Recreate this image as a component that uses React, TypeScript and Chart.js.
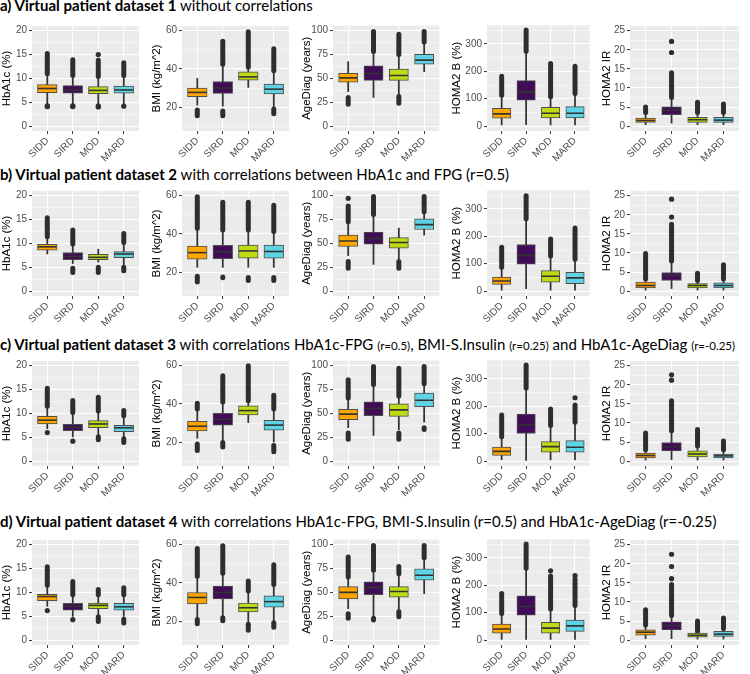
import React, { useEffect, useRef } from "react";
import { Chart, registerables } from "chart.js";
Chart.register(...registerables);

// ---------- categories & styling ----------
const GROUPS = ["SIDD", "SIRD", "MOD", "MARD"];
const COLORS = ["#FFA500", "#3F0C55", "#C1DA16", "#5DD3E3"];

// ---------- tick lists (major + minor gridlines) ----------
const TICKS_HBA1C = [0, 2.5, 5, 7.5, 10, 12.5, 15, 17.5, 20];
const TICKS_BMI = [10, 20, 30, 40, 50, 60];
const TICKS_AGE = [0, 12.5, 25, 37.5, 50, 62.5, 75, 87.5, 100];
const TICKS_HOMAB = [0, 50, 100, 150, 200, 250, 300, 350];
const TICKS_HOMAIR = [0, 2.5, 5, 7.5, 10, 12.5, 15, 17.5, 20, 22.5, 25];

// ---------- box statistics per panel ----------
// each row (SIDD, SIRD, MOD, MARD):
// [whiskerLow, Q1, median, Q3, whiskerHigh, lowOutMin, lowOutMax, highOutMin, highOutMax]

// a) dataset 1
const A_HBA1C = [
  [4.7, 7.0, 7.9, 8.7, 11.0, 4.1, 4.3, 11.0, 15.2],
  [4.7, 6.9, 7.6, 8.5, 10.6, 4.1, 4.3, 10.6, 13.9],
  [4.6, 6.8, 7.5, 8.3, 10.4, 4.0, 4.3, 10.4, 13.8],
  [4.7, 6.9, 7.6, 8.4, 10.6, null, null, 10.6, 13.3],
];
const A_BMI = [
  [21.0, 25.5, 27.7, 30.0, 35.0, 15.5, 18.5, null, null],
  [20.5, 27.2, 30.0, 33.4, 42.5, 15.5, 18.0, 42.5, 54.5],
  [30.3, 34.1, 35.8, 38.5, 41.0, null, null, 41.0, 59.5],
  [20.0, 26.9, 29.4, 32.0, 39.0, 16.5, 19.0, 39.0, 50.5],
];
const A_AGE = [
  [36, 46.1, 50.5, 55.3, 67.6, 23, 30, null, null],
  [30, 47.8, 55, 63, 78, null, null, 78, 99],
  [33, 47.8, 53, 59.7, 74, 24, 31, 75, 96],
  [57, 64.8, 69, 75, 87, null, null, 88, 99],
];
const A_HOMAB = [
  [5, 29.6, 45, 65, 113, null, null, 113, 182],
  [6, 95, 124, 166, 273, null, null, 273, 350],
  [5, 30, 47, 69, 107, null, null, 107, 228],
  [5, 30, 47, 71, 119, null, null, 119, 218],
];
const A_HOMAIR = [
  [0.4, 1.0, 1.5, 2.1, 3.6, null, null, 3.6, 5.0],
  [0.8, 3.0, 4.2, 5.1, 7.5, null, null, 7.5, 14.0],
  [0.4, 1.0, 1.7, 2.3, 3.6, null, null, 3.6, 6.3],
  [0.4, 1.0, 1.6, 2.3, 3.6, null, null, 3.6, 5.8],
];

// b) dataset 2
const B_HBA1C = [
  [7.8, 8.6, 9.3, 9.8, 11.4, null, null, 11.4, 15.4],
  [5.8, 6.6, 7.3, 8.1, 9.9, 3.9, 4.8, 9.9, 12.8],
  [6.1, 6.6, 7.1, 7.7, 8.8, 3.9, 5.0, null, null],
  [5.5, 7.0, 7.8, 8.3, 10.2, 4.3, 5.0, 10.2, 12.1],
];
const B_BMI = [
  [22.5, 26.8, 30.2, 33.6, 43, 14.8, 17.8, 43, 59.5],
  [22.5, 27.1, 30.7, 34.0, 42, 17.0, 17.4, 42, 56.6],
  [22.5, 27.3, 31.1, 34.1, 42, 15.6, 17.2, 42, 56.6],
  [22.5, 27.3, 30.8, 34.1, 41.3, 15.6, 17.2, 41.3, 55.0],
];
const B_AGE = [
  [37, 46.8, 52.5, 58.6, 72.5, 24, 31, 72.5, 89],
  [28, 49, 55, 61.7, 80, null, null, 80, 99],
  [34, 45, 50.8, 56, 66, 24, 31, null, null],
  [58.6, 64.4, 69.5, 75.6, 83, null, null, 83, 99],
];
const B_HOMAB = [
  [3.5, 25, 37, 51, 87, null, null, 87, 160],
  [9.5, 98.5, 130.5, 170, 264, null, null, 264, 348],
  [4, 33, 54.6, 75, 128, null, null, 128, 190],
  [4, 27, 48.6, 69, 116, null, null, 116, 230],
];
const B_HOMAIR = [
  [0.3, 0.85, 1.5, 2.4, 3.2, null, null, 3.2, 9.9],
  [0.7, 2.8, 4.1, 4.9, 7.9, null, null, 7.9, 17.5],
  [0.3, 0.85, 1.5, 2.0, 2.8, null, null, 2.8, 4.7],
  [0.3, 0.85, 1.5, 2.2, 3.2, null, null, 3.2, 6.9],
];

// c) dataset 3
const C_HBA1C = [
  [6.8, 7.8, 8.6, 9.4, 11.5, null, null, 11.5, 15.3],
  [5.1, 6.4, 7.1, 7.7, 10.2, null, null, 10.2, 12.7],
  [5.4, 7.0, 7.8, 8.5, 10.5, 4.5, 5.1, 10.5, 13.4],
  [5.1, 6.2, 7.0, 7.5, 9.5, 3.9, 4.7, 9.5, 10.6],
];
const C_BMI = [
  [22, 25.8, 28.3, 30.9, 36.5, 15.6, 19.0, 37.4, 40.4],
  [20.3, 28.9, 31.9, 35.1, 41, 17.5, 19.8, 41, 54.8],
  [30.2, 34.3, 36.5, 39.0, 41.6, null, null, 41.6, 60.0],
  [20, 26.3, 28.9, 31.4, 37.4, 15.0, 18.2, 37.4, 44.5],
];
const C_AGE = [
  [35, 43.4, 49.2, 54.2, 66, 23, 29.5, 66, 85],
  [27, 47.5, 55, 62, 80, null, null, 80, 99],
  [33, 46.8, 53.6, 60, 68, 23, 29.5, 68, 97],
  [40.7, 57, 63.7, 71.2, 81, 33, 35, 81, 99],
];
const C_HOMAB = [
  [6, 21, 35.6, 51, 89, null, null, 89, 168],
  [3, 101, 133, 172, 267, null, null, 267, 350],
  [5, 33, 53, 71, 130, null, null, 130, 190],
  [5, 33, 51, 75, 142, null, null, 142, 205],
];
const C_HOMAIR = [
  [0.3, 0.85, 1.5, 2.1, 3.0, null, null, 3.0, 7.4],
  [0.4, 2.7, 3.8, 4.9, 8.0, null, null, 8.0, 15.8],
  [0.3, 1.1, 1.9, 2.7, 4.0, null, null, 4.0, 8.3],
  [0.3, 0.85, 1.4, 1.9, 3.0, null, null, 3.0, 5.3],
];

// d) dataset 4
const D_HBA1C = [
  [7.1, 8.3, 9.15, 9.6, 11.5, null, null, 11.5, 15.4],
  [5.0, 6.3, 7.1, 7.7, 9.5, null, null, 9.5, 12.3],
  [5.2, 6.6, 7.3, 7.8, 9.5, 3.9, 4.9, 9.5, 10.6],
  [5.0, 6.3, 7.0, 7.7, 9.5, 3.6, 4.4, 9.5, 11.0],
];
const D_BMI = [
  [21.4, 29, 32.4, 35, 43.5, 18.6, 20.8, 43.5, 58.0],
  [22.2, 31.6, 35, 38.4, 45, 20.2, 21.8, 45, 59.5],
  [18.8, 24.8, 27, 29.5, 35.8, 15.2, 18.4, 35.8, 41.0],
  [19.7, 27.3, 30.2, 33.3, 39.2, 16.8, 19.2, 39.2, 49.5],
];
const D_AGE = [
  [33, 43, 50, 56, 66, 23, 27.5, 66, 87],
  [25, 47.5, 55.2, 61, 73, 21, 23, 73, 99],
  [33, 45, 50.8, 56, 69.5, 24.5, 30, 69.5, 77],
  [48.5, 62.7, 67.8, 74.6, 86, null, null, 86, 99],
];
const D_HOMAB = [
  [3, 26, 41, 59, 97, null, null, 97, 170],
  [3, 91, 123, 162, 262, null, null, 262, 350],
  [3, 26, 44, 65, 114, null, null, 114, 234],
  [3, 32, 52, 73, 126, null, null, 126, 222],
];
const D_HOMAIR = [
  [0.4, 1.3, 2.1, 2.7, 4.0, null, null, 4.0, 8.0],
  [0.4, 2.7, 3.8, 4.8, 6.5, null, null, 6.5, 14.6],
  [0.3, 0.8, 1.3, 1.9, 2.3, null, null, 2.3, 5.0],
  [0.3, 1.0, 1.6, 2.3, 3.1, null, null, 3.1, 5.8],
];

// ---------- isolated outlier points: [groupIndex, value] ----------
const A_HBA1C_PTS = [[0, 4.2], [1, 4.2], [2, 4.1], [2, 15.0], [3, 4.2]];
const A_HOMAIR_PTS = [[1, 19.3], [1, 22.2]];
const B_AGE_PTS = [[0, 97]];
const B_HOMAIR_PTS = [[1, 19.4], [1, 24.1]];
const C_HBA1C_PTS = [[0, 6.0], [1, 4.2]];
const C_HOMAB_PTS = [[3, 231]];
const C_HOMAIR_PTS = [[1, 21.2], [1, 22.6]];
const D_HBA1C_PTS = [[0, 6.2], [1, 4.3]];
const D_HOMAB_PTS = [[2, 253], [3, 235]];
const D_HOMAIR_PTS = [[1, 16.1], [1, 19.3], [1, 22.5]];
const NO_PTS: number[][] = [];

// ---------- variables (axis settings) ----------
const VARS = [
  { title: "HbA1c (%)", min: -1, max: 21, ticks: TICKS_HBA1C, major: 5 },
  { title: "BMI (kg/m^2)", min: 7.5, max: 62.5, ticks: TICKS_BMI, major: 20 },
  { title: "AgeDiag (years)", min: -5, max: 105, ticks: TICKS_AGE, major: 25 },
  { title: "HOMA2 B (%)", min: -17.5, max: 367.5, ticks: TICKS_HOMAB, major: 100 },
  { title: "HOMA2 IR", min: -1.25, max: 26.25, ticks: TICKS_HOMAIR, major: 5 },
];

const ROWS = [
  { stats: [A_HBA1C, A_BMI, A_AGE, A_HOMAB, A_HOMAIR], pts: [A_HBA1C_PTS, NO_PTS, NO_PTS, NO_PTS, A_HOMAIR_PTS] },
  { stats: [B_HBA1C, B_BMI, B_AGE, B_HOMAB, B_HOMAIR], pts: [NO_PTS, NO_PTS, B_AGE_PTS, NO_PTS, B_HOMAIR_PTS] },
  { stats: [C_HBA1C, C_BMI, C_AGE, C_HOMAB, C_HOMAIR], pts: [C_HBA1C_PTS, NO_PTS, NO_PTS, C_HOMAB_PTS, C_HOMAIR_PTS] },
  { stats: [D_HBA1C, D_BMI, D_AGE, D_HOMAB, D_HOMAIR], pts: [D_HBA1C_PTS, NO_PTS, NO_PTS, D_HOMAB_PTS, D_HOMAIR_PTS] },
];

// ---------- layout ----------
const ROW_PANEL_TOP = [23, 188, 358, 537];
const PANEL_H = 108;
const PAD_TOP = 8;
const X_AXIS_H = 33;
const COL_LEFT = [0, 150, 300, 450, 600];
const COL_W = 150;
const Y_AXIS_W = [32, 32, 33, 37, 30];
const PAD_RIGHT = [8, 8, 10, 10, 10];

const AXIS_FONT = "'Liberation Sans', Arial, sans-serif";
const DARK = "#2E2E2E";

const bgPlugin = {
  id: "panelBg",
  beforeDraw(chart: any) {
    const { ctx, chartArea: a } = chart;
    ctx.save();
    ctx.fillStyle = "#EBEBEB";
    ctx.fillRect(a.left, a.top, a.right - a.left, a.bottom - a.top);
    ctx.restore();
  },
};

function Panel({ row, col }: { row: number; col: number }) {
  const ref = useRef<HTMLCanvasElement | null>(null);
  const v = VARS[col];
  const stats = ROWS[row].stats[col] as (number | null)[][];
  const pts = ROWS[row].pts[col];
  const plotW = COL_W - Y_AXIS_W[col] - PAD_RIGHT[col];
  const unit = plotW / 4.2;
  const boxW = unit * 0.75;
  const H = PAD_TOP + PANEL_H + X_AXIS_H;

  useEffect(() => {
    if (!ref.current) return;
    const datasets: any[] = [];
    // whiskers
    datasets.push({
      type: "bar",
      data: stats.map((s, i) => ({ x: i + 1, y: [s[0], s[4]] })),
      backgroundColor: "#333333",
      barThickness: 1.1,
      grouped: false,
      order: 6,
    });
    // outlier columns (lines with round caps)
    stats.forEach((s, i) => {
      const ranges = [
        [s[5], s[6]],
        [s[7], s[8]],
      ];
      ranges.forEach((r) => {
        if (r[0] == null || r[1] == null) return;
        datasets.push({
          type: "line",
          data: [
            { x: i + 1, y: r[0] },
            { x: i + 1, y: r[1] },
          ],
          borderColor: DARK,
          borderWidth: 5,
          borderCapStyle: "round",
          pointRadius: 0,
          order: 5,
        });
      });
    });
    // boxes
    datasets.push({
      type: "bar",
      data: stats.map((s, i) => ({ x: i + 1, y: [s[1], s[3]] })),
      backgroundColor: COLORS,
      borderColor: "#4D4D4D",
      borderWidth: 1,
      borderSkipped: false,
      barThickness: boxW,
      grouped: false,
      order: 4,
    });
    // medians
    datasets.push({
      type: "line",
      data: stats.map((s, i) => ({ x: i + 1, y: s[2] })),
      showLine: false,
      pointStyle: "line",
      pointRadius: boxW / 2 - 0.5,
      pointBorderColor: "#333333",
      pointBorderWidth: 1.6,
      order: 1,
    });
    // isolated points
    if (pts.length) {
      datasets.push({
        type: "line",
        data: pts.map((p) => ({ x: p[0] + 1, y: p[1] })),
        showLine: false,
        pointRadius: 2.6,
        pointBackgroundColor: DARK,
        pointBorderWidth: 0,
        order: 2,
      });
    }

    const isMajor = (val: number) => Math.abs(val / v.major - Math.round(val / v.major)) < 1e-6;

    const chart = new Chart(ref.current, {
      type: "bar",
      data: { datasets },
      plugins: [bgPlugin],
      options: {
        animation: false,
        responsive: false,
        events: [],
        layout: { padding: { top: PAD_TOP, right: PAD_RIGHT[col], bottom: 0, left: 0 } },
        plugins: { legend: { display: false }, tooltip: { enabled: false } },
        scales: {
          x: {
            type: "linear",
            min: 0.4,
            max: 4.6,
            offset: false,
            afterBuildTicks: (s: any) => {
              s.ticks = GROUPS.map((_, i) => ({ value: i + 1 }));
            },
            afterFit: (s: any) => {
              s.height = X_AXIS_H;
            },
            ticks: {
              autoSkip: false,
              minRotation: 45,
              maxRotation: 45,
              color: "#4D4D4D",
              padding: 1,
              font: { family: AXIS_FONT, size: 10 },
              callback: (val: any) => GROUPS[Math.round(val) - 1] ?? "",
            },
            grid: {
              offset: false,
              color: "#FFFFFF",
              lineWidth: 1.1,
              tickColor: "#333333",
              tickLength: 3,
              tickWidth: 1,
            },
            border: { display: false },
          },
          y: {
            type: "linear",
            min: v.min,
            max: v.max,
            afterBuildTicks: (s: any) => {
              s.ticks = v.ticks.map((t) => ({ value: t }));
            },
            afterFit: (s: any) => {
              s.width = Y_AXIS_W[col];
            },
            ticks: {
              autoSkip: false,
              color: "#4D4D4D",
              padding: 2,
              font: { family: AXIS_FONT, size: 10 },
              callback: (val: any) => (isMajor(Number(val)) ? String(val) : ""),
            },
            grid: {
              color: "#FFFFFF",
              lineWidth: (ctx: any) => (ctx.tick && isMajor(ctx.tick.value) ? 1.1 : 0.5),
              tickColor: (ctx: any) => (ctx.tick && isMajor(ctx.tick.value) ? "#333333" : "rgba(0,0,0,0)"),
              tickLength: 3,
              tickWidth: 1,
            },
            border: { display: false },
            title: {
              display: true,
              text: v.title,
              color: "#000000",
              font: { family: AXIS_FONT, size: 11.5 },
              padding: { top: 0, bottom: 1 },
            },
          },
        },
      } as any,
    });
    return () => chart.destroy();
  }, [row, col]);

  return (
    <div
      style={{
        position: "absolute",
        left: COL_LEFT[col],
        top: ROW_PANEL_TOP[row] - PAD_TOP,
        width: COL_W,
        height: H,
      }}
    >
      <canvas ref={ref} width={COL_W} height={H} style={{ display: "block" }} />
    </div>
  );
}

const TITLE_FONT = "Lato, 'Open Sans', sans-serif";
const TITLE_TOPS = [-4.1, 164.5, 335.2, 511.9];

function Small({ children }: { children: React.ReactNode }) {
  return <span style={{ fontSize: 11.5 }}>{children}</span>;
}

export default function App() {
  const titleStyle = (i: number): React.CSSProperties => ({
    position: "absolute",
    left: 0,
    top: TITLE_TOPS[i],
    fontFamily: TITLE_FONT,
    fontSize: 15,
    lineHeight: "18px",
    whiteSpace: "nowrap",
    color: "#000",
  });
  return (
    <div
      style={{
        position: "absolute",
        left: 0,
        top: 0,
        width: 750,
        height: 674,
        background: "#FFFFFF",
        overflow: "hidden",
      }}
    >
      <div style={titleStyle(0)}>
        <b>a) Virtual patient dataset 1</b> without correlations
      </div>
      <div style={titleStyle(1)}>
        <b>b) Virtual patient dataset 2</b> with correlations between HbA1c and FPG (r=0.5)
      </div>
      <div style={titleStyle(2)}>
        <b>c) Virtual patient dataset 3</b> with correlations HbA1c-FPG <Small>(r=0.5)</Small>, BMI-S.Insulin{" "}
        <Small>(r=0.25)</Small> and HbA1c-AgeDiag <Small>(r=-0.25)</Small>
      </div>
      <div style={titleStyle(3)}>
        <b>d) Virtual patient dataset 4</b> with correlations HbA1c-FPG, BMI-S.Insulin (r=0.5) and HbA1c-AgeDiag
        (r=-0.25)
      </div>
      {ROWS.map((_, r) => GROUPS.concat(["x"]).map((__, c) => <Panel key={r + "-" + c} row={r} col={c} />))}
    </div>
  );
}
